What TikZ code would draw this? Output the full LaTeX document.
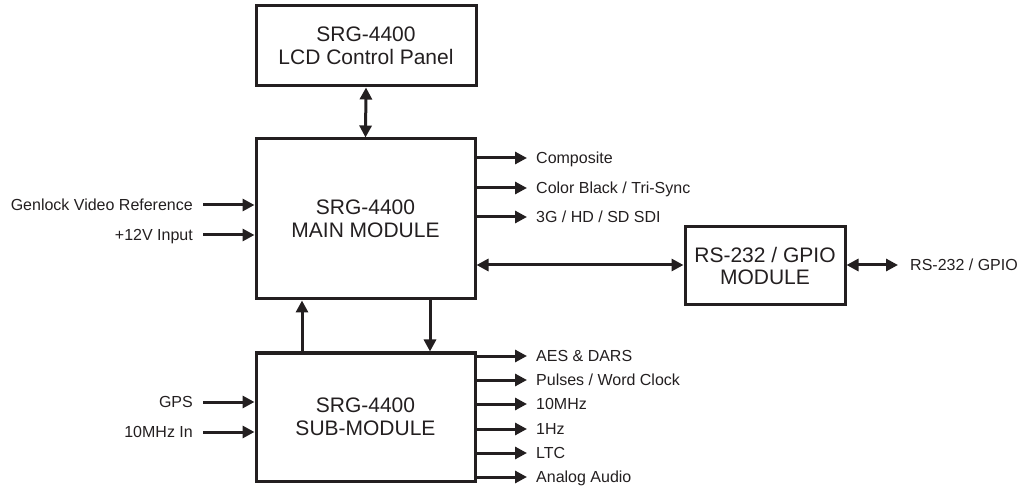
\documentclass[tikz,border=0pt]{standalone}
\usepackage{fontspec}
\setmainfont{Liberation Sans}
\usetikzlibrary{arrows.meta, positioning}
\definecolor{ink}{RGB}{35,31,32}
\tikzstyle{arrow} = [ink, line width=3pt, -{Triangle[length=12pt,width=12pt]}]
\tikzstyle{dblarrow} = [ink, line width=3pt, {Triangle[length=12pt,width=12pt]}-{Triangle[length=12pt,width=12pt]}]
\tikzstyle{module} = [draw=ink, line width=3pt, align=center, text=ink, inner sep=0pt, font=\fontsize{21}{22.5}\selectfont]
\tikzstyle{outlbl} = [anchor=west, inner xsep=9pt, inner ysep=0pt, text height=11.5pt, text depth=0pt, text=ink, font=\fontsize{16}{18}\selectfont]
\tikzstyle{inlbl} = [outlbl, anchor=east, inner xsep=10pt]

\begin{document}
\begin{tikzpicture}[x=1pt, y=-1pt]
    \useasboundingbox (0,0) rectangle (1021,489);

    % Modules
    \node[module, minimum width=220pt, minimum height=80pt] (lcd) at (366,46) {SRG-4400\\LCD Control Panel};
    \node[module, minimum width=219pt, minimum height=160pt] (main) at (365.5,219) {SRG-4400\\MAIN MODULE};
    \node[module, minimum width=219pt, minimum height=128pt] (sub) at (365.5,417) {SRG-4400\\SUB-MODULE};
    \node[module, minimum width=160pt, minimum height=78pt] (rs) at (765,266) {RS-232 / GPIO\\MODULE};

    % Links between modules
    \draw[dblarrow] (lcd.south) -- (main.north);
    \draw[arrow] (sub.north -| 302,0) -- (main.south -| 302,0);
    \draw[arrow] (main.south -| 430,0) -- (sub.north -| 430,0);
    \draw[dblarrow] (main.east |- 0,265) -- (rs.west |- 0,265);

    % Main module inputs
    \node[inlbl] (genlock) at (203,205) {Genlock Video Reference};
    \node[inlbl] (pwr) at (203,235) {+12V Input};
    \draw[arrow] (genlock.east) -- (main.west |- genlock);
    \draw[arrow] (pwr.east) -- (main.west |- pwr);

    % Main module outputs
    \foreach \y/\name/\txt in {158/comp/{Composite}, 188/black/{Color Black / Tri-Sync}, 217/sdi/{3G / HD / SD SDI}} {
        \node[outlbl] (\name) at (527,\y) {\txt};
        \draw[arrow] (main.east |- \name) -- (\name.west);
    }

    % Sub-module inputs
    \node[inlbl] (gps) at (203,402) {GPS};
    \node[inlbl] (tenin) at (203,432) {10MHz In};
    \draw[arrow] (gps.east) -- (sub.west |- gps);
    \draw[arrow] (tenin.east) -- (sub.west |- tenin);

    % Sub-module outputs
    \foreach \y/\name/\txt in {356/aes/{AES \& DARS}, 380/pulse/{Pulses / Word Clock}, 404/tenout/{10MHz}, 429/onehz/{1Hz}, 453/ltc/{LTC}, 477/audio/{Analog Audio}} {
        \node[outlbl] (\name) at (527,\y) {\txt};
        \draw[arrow] (sub.east |- \name) -- (\name.west);
    }

    % RS-232 / GPIO port
    \node[outlbl, inner xsep=12pt] (port) at (898,265) {RS-232 / GPIO};
    \draw[dblarrow] (rs.east |- port) -- (port.west);
\end{tikzpicture}
\end{document}
